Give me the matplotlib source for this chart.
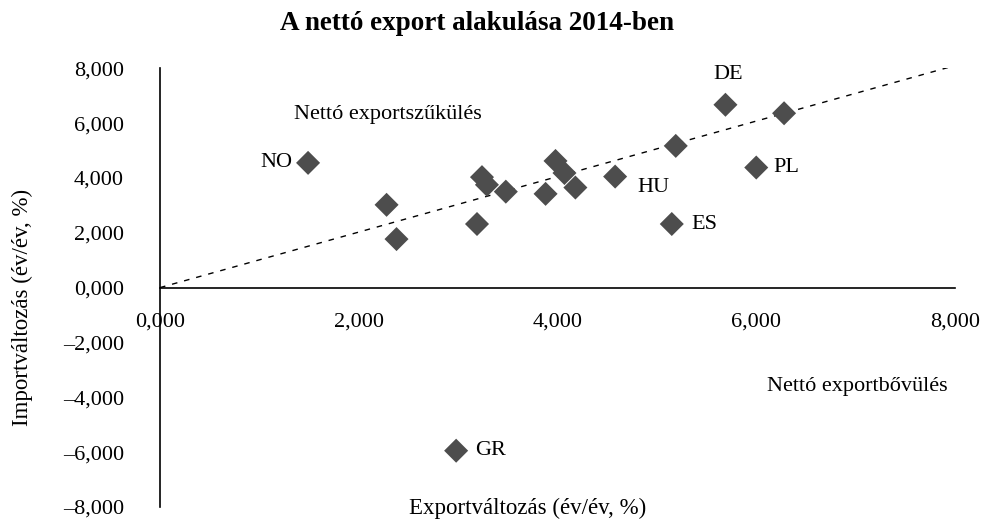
import matplotlib
matplotlib.use("Agg")
import matplotlib.pyplot as plt
from matplotlib.ticker import FuncFormatter, MultipleLocator

plt.rcParams['font.family'] = ['Liberation Serif', 'DejaVu Serif']

# Data (export change, import change), % y/y
export_chg = [1.49, 2.28, 2.38, 3.19, 3.24, 3.29, 3.48, 3.88, 3.98, 4.07, 4.18,
              4.58, 5.19, 5.69, 6.28, 6.00, 5.15, 2.98]
import_chg = [4.55, 3.02, 1.77, 2.32, 4.03, 3.75, 3.50, 3.42, 4.62, 4.18, 3.65,
              4.05, 5.17, 6.67, 6.36, 4.38, 2.32, -5.95]
labels = ["NO", "", "", "", "", "", "", "", "", "", "",
          "HU", "", "DE", "", "PL", "ES", "GR"]
trend_x = [0.0, 8.0]
trend_y = [0.0, 8.1]

title = "A nettó export alakulása 2014-ben"
xlabel = "Exportváltozás (év/év, %)"
ylabel = "Importváltozás (év/év, %)"
quad_top = "Nettó exportszűkülés"
quad_bottom = "Nettó exportbővülés"

FS = 16
W, H = 982, 522
fig = plt.figure(figsize=(W / 100, H / 100), dpi=100)
x0, x1 = 160, 955
ytop, ybot = 68.3, 506.9
ax = fig.add_axes([x0 / W, 1 - ybot / H, (x1 - x0) / W, (ybot - ytop) / H])

ax.set_xlim(0, 8)
ax.set_ylim(-8, 8)

ax.plot(trend_x, trend_y, linestyle=(0, (4, 5)), color='black', linewidth=1.0, zorder=2)
ax.scatter(export_chg, import_chg, marker='D', s=150, color='#4d4d4d',
           edgecolors='none', zorder=3)

offsets = {
    "NO": ((-11, 0), 'right', 'center'),
    "DE": ((2, 22), 'center', 'center'),
    "PL": ((12, 0), 'left', 'center'),
    "HU": ((16, -8), 'left', 'center'),
    "ES": ((14, 0), 'left', 'center'),
    "GR": ((14, 0), 'left', 'center'),
}
for xv, yv, lab in zip(export_chg, import_chg, labels):
    if lab:
        off, ha, va = offsets[lab]
        ax.annotate(lab, (xv, yv), xytext=off, textcoords='offset points',
                    ha=ha, va=va, fontsize=FS)

for s in ['top', 'right']:
    ax.spines[s].set_visible(False)
ax.spines['bottom'].set_position(('data', 0))
ax.spines['left'].set_position(('data', 0))
for s in ['bottom', 'left']:
    ax.spines[s].set_linewidth(1.2)
    ax.spines[s].set_color('black')

fmt = FuncFormatter(lambda v, p: f"{v:.3f}".replace('.', ',').replace('-', '\u2013'))
ax.xaxis.set_major_locator(MultipleLocator(2))
ax.yaxis.set_major_locator(MultipleLocator(2))
ax.xaxis.set_major_formatter(fmt)
ax.yaxis.set_major_formatter(fmt)
ax.tick_params(axis='x', length=0, pad=18, labelsize=FS)
ax.tick_params(axis='y', length=0, pad=26, labelsize=FS)

fig.text(476.7 / W, 1 - 23 / H, title, ha='center', va='center',
         fontsize=19.5, fontweight='bold')
fig.text(528 / W, 1 - 508 / H, xlabel, ha='center', va='center', fontsize=16.5)
fig.text(22 / W, 1 - 307 / H, ylabel, ha='center', va='center', fontsize=16.5,
         rotation=90)
fig.text(387.5 / W, 1 - 114 / H, quad_top, ha='center', va='center', fontsize=FS)
fig.text(857 / W, 1 - 386.7 / H, quad_bottom, ha='center', va='center', fontsize=FS)

fig.savefig("out.png", dpi=100)
